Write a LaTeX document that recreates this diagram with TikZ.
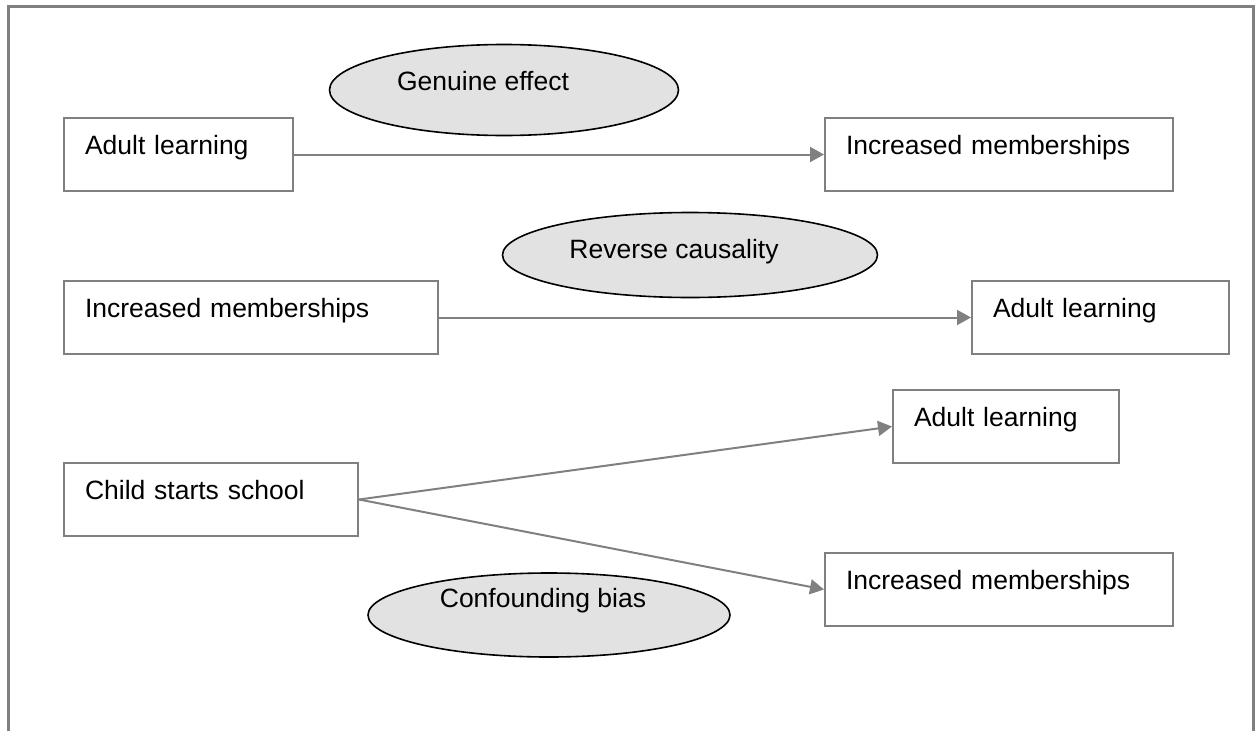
\documentclass[tikz,border=0pt]{standalone}
\usepackage{fontspec}
\setmainfont{Liberation Sans}
\usetikzlibrary{shapes.geometric,arrows.meta}
\definecolor{linegray}{HTML}{808080}
\definecolor{ovalfill}{HTML}{E2E2E2}
\begin{document}
\begin{tikzpicture}[x=1pt,y=-1pt,
  font=\fontsize{26.5}{30}\selectfont,
  box/.style={draw=linegray, line width=2pt, rectangle, anchor=north west,
    inner xsep=21pt, inner ysep=0pt, minimum height=73pt,
    text height=19pt, text depth=19pt, align=left},
  oval/.style={ellipse, draw=black, line width=1.6pt, fill=ovalfill, inner sep=0pt},
  conn/.style={draw=linegray, line width=2pt, -{Triangle[length=14pt,width=15pt]}},
  frame/.style={draw=linegray, line width=3pt}
]
\useasboundingbox (0,0) rectangle (1259,731);
\draw[frame] (8,735) -- (8,6) -- (1253,6) -- (1253,735);

% ellipses
\node[oval, minimum width=349pt, minimum height=91pt] (e1) at (504,90) {};
\node[anchor=base] (t1) at (483,90) {Genuine effect};
\node[oval, minimum width=375pt, minimum height=85pt] (e2) at (690,255) {};
\node[anchor=base] (t2) at (674,258) {Reverse causality};
\node[oval, minimum width=362pt, minimum height=84pt] (e3) at (549,615) {};
\node[anchor=base] (t3) at (543,607) {Confounding bias};

% boxes
\node[box, text width=187pt] (b1) at (63,117) {Adult learning};
\node[box, text width=306pt] (b2) at (824,117) {Increased memberships};
\node[box, text width=332pt] (b3) at (63,280) {Increased memberships};
\node[box, text width=215pt] (b4) at (971,280) {Adult learning};
\node[box, text width=184pt] (b5) at (892,389) {Adult learning};
\node[box, text width=252pt] (b6) at (63,462) {Child starts school};
\node[box, text width=306pt] (b7) at (824,552) {Increased memberships};

% connectors
\draw[conn] (b1.east) -- (b2.west);
\draw[conn] (b3.east) -- (b4.west);
\draw[conn] (b6.east) -- (b5.west);
\draw[conn] (b6.east) -- (b7.west);
\end{tikzpicture}
\end{document}
